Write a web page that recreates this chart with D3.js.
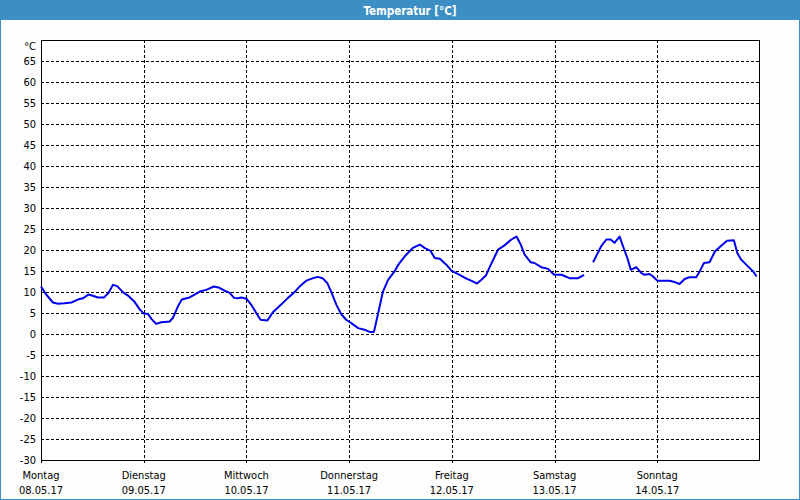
<!DOCTYPE html>
<html>
<head>
<meta charset="utf-8">
<script src="https://cdn.jsdelivr.net/npm/d3@7/dist/d3.min.js"></script>
<style>
  html, body { margin: 0; padding: 0; background: #ffffff; }
  svg { display: block; }
  .lbl { font-family: "DejaVu Sans Condensed", "DejaVu Sans", sans-serif; font-stretch: condensed; font-size: 11px; fill: #000; }
  .title { font-family: "DejaVu Sans Condensed", "DejaVu Sans", sans-serif; font-stretch: condensed; font-weight: bold; font-size: 11.5px; fill: #fff; }
</style>
</head>
<body>
<svg id="chart" width="800" height="500"></svg>
<script>
const titleText = "Temperatur [°C]";
const unitLabel = "°C";
const dayNames = ["Montag", "Dienstag", "Mittwoch", "Donnerstag", "Freitag", "Samstag", "Sonntag"];
const dayDates = ["08.05.17", "09.05.17", "10.05.17", "11.05.17", "12.05.17", "13.05.17", "14.05.17"];
const yTicks = [-30, -25, -20, -15, -10, -5, 0, 5, 10, 15, 20, 25, 30, 35, 40, 45, 50, 55, 60, 65];

// hours since Monday 00:00
const hours = [0, 1.2, 2.8, 4, 5.5, 7.1, 8.6, 9.8, 11.1, 12.1, 13.3, 14.7, 15.8, 16.8, 17.8, 19.2, 20.5, 21.9, 23.1, 24.1,
  25, 25.8, 26.9, 28.1, 30.1, 30.8, 32, 32.9, 34.7, 35.9, 37.1, 38.6, 40.4, 41.7, 42.9, 44.1, 45.1, 46, 46.8, 48,
  49.1, 50.3, 51.3, 52.9, 54.2, 56.1, 57.7, 59.1, 60.4, 62, 63.6, 64.7, 65.9, 66.9, 67.8, 69, 70.1, 71.3, 72.5, 74.1,
  75.6, 76.8, 77.8, 78.7, 79.9, 81.1, 82.6, 83.5, 85, 86.9, 88.5, 89.6, 91, 92, 93.2, 94.7, 95.9, 97.8, 99.4, 100.5,
  101.9, 102.9, 104, 105.1, 106.8, 108.3, 109.9, 111.1, 112.1, 113, 114.4, 115.3, 116.9, 118.5, 119.9, 121.6, 123.5, 125.5, 126.9, 128,
  129, 130.1, 130.9, 132.1, 133.1, 134, 135.2, 136.2, 137, 137.8, 138.3, 139.1, 140.3, 141, 142.2, 143, 144, 146.9, 148, 149.2,
  150.4, 151.5, 153.1, 153.9, 154.9, 156.2, 157.5, 158.8, 160.3, 161.9, 162.7, 163.6, 165.2, 166.4, 167.2];
const temps = [11.3, 9.4, 7.5, 7.2, 7.3, 7.5, 8.2, 8.5, 9.4, 9.1, 8.7, 8.7, 9.8, 11.7, 11.4, 9.9, 9.0, 7.6, 5.8, 4.8,
  4.8, 3.6, 2.4, 2.8, 3.0, 3.8, 6.6, 8.2, 8.7, 9.4, 10.1, 10.5, 11.3, 11.0, 10.3, 9.8, 8.6, 8.5, 8.7, 8.4,
  7.0, 5.0, 3.4, 3.2, 5.2, 7.0, 8.6, 9.8, 11.3, 12.7, 13.3, 13.6, 13.2, 12.1, 10.1, 7.0, 4.8, 3.4, 2.6, 1.4,
  1.0, 0.5, 0.5, 4.6, 10.1, 12.9, 14.9, 16.5, 18.5, 20.5, 21.3, 20.5, 19.8, 18.1, 17.9, 16.5, 15.1, 14.1, 13.2, 12.7,
  12.0, 12.9, 14.0, 16.5, 20.1, 21.1, 22.5, 23.2, 21.3, 18.9, 17.1, 16.9, 15.9, 15.5, 14.1, 14.1, 13.3, 13.3, 14.1, null,
  17.1, 19.3, 20.9, 22.5, 22.5, 21.7, 23.2, 20.3, 18.1, 15.3, 15.5, 15.9, 14.5, 14.1, 14.3, 13.7, 12.7, 12.7, 12.4, 11.9,
  13.1, 13.5, 13.5, 14.9, 16.9, 17.1, 19.7, 20.9, 22.2, 22.3, 19.3, 17.7, 16.1, 14.9, 13.7];

const W = 800, H = 500;
const m = { left: 41, right: 760, top: 40, bottom: 460 };
const blue = "#3b8fc4";

const svg = d3.select("#chart");

// background & frame
svg.append("rect").attr("x", 0).attr("y", 0).attr("width", W).attr("height", H).attr("fill", "#fcfdfc");
svg.append("rect").attr("x", 0.5).attr("y", 0.5).attr("width", W - 1).attr("height", H - 1)
  .attr("fill", "none").attr("stroke", blue).attr("stroke-width", 1);
svg.append("rect").attr("x", 0).attr("y", 0).attr("width", W).attr("height", 20).attr("fill", blue);
svg.append("text").attr("class", "title").attr("x", 410).attr("y", 14.5).attr("text-anchor", "middle").text(titleText);

const x = d3.scaleLinear().domain([0, 168]).range([m.left, m.right]);
const y = d3.scaleLinear().domain([-30, 70]).range([m.bottom, m.top]);

// plot background
svg.append("rect").attr("x", m.left).attr("y", m.top).attr("width", m.right - m.left).attr("height", m.bottom - m.top)
  .attr("fill", "#ffffff");

// horizontal grid
svg.append("g").selectAll("line").data(yTicks.filter(v => v > -30)).join("line")
  .attr("x1", m.left).attr("x2", m.right)
  .attr("y1", d => Math.round(y(d)) + 0.5).attr("y2", d => Math.round(y(d)) + 0.5)
  .attr("stroke", "#000").attr("stroke-width", 1).attr("stroke-dasharray", "3,2");

// vertical grid
const dayIdx = d3.range(dayNames.length);
svg.append("g").selectAll("line").data(dayIdx.filter(d => d > 0)).join("line")
  .attr("x1", d => Math.round(x(d * 24)) + 0.5).attr("x2", d => Math.round(x(d * 24)) + 0.5)
  .attr("y1", m.top).attr("y2", m.bottom + 3)
  .attr("stroke", "#000").attr("stroke-width", 1).attr("stroke-dasharray", "3,2");

// plot box
svg.append("rect").attr("x", m.left + 0.5).attr("y", m.top + 0.5)
  .attr("width", m.right - m.left - 1).attr("height", m.bottom - m.top)
  .attr("fill", "none").attr("stroke", "#000").attr("stroke-width", 1);
svg.append("line").attr("x1", m.left + 0.5).attr("x2", m.left + 0.5).attr("y1", m.bottom).attr("y2", m.bottom + 3)
  .attr("stroke", "#000");

// y labels
svg.append("g").selectAll("text").data(yTicks).join("text")
  .attr("class", "lbl").attr("x", 36).attr("y", d => y(d) + 4).attr("text-anchor", "end").text(d => d);
svg.append("text").attr("class", "lbl").attr("x", 36).attr("y", 50).attr("text-anchor", "end").text(unitLabel);

// x labels
const xl = svg.append("g").selectAll("g").data(dayIdx).join("g");
xl.append("text").attr("class", "lbl").attr("x", d => x(d * 24)).attr("y", 479).attr("text-anchor", "middle").text(d => dayNames[d]);
xl.append("text").attr("class", "lbl").attr("x", d => x(d * 24)).attr("y", 494).attr("text-anchor", "middle").text(d => dayDates[d]);

// temperature line
const pts = hours.map((h, i) => ({ h: h, t: temps[i] }));
const line = d3.line().defined(d => d.t !== null).x(d => x(d.h)).y(d => y(d.t));
svg.append("path").datum(pts).attr("d", line)
  .attr("fill", "none").attr("stroke", "#0000ee").attr("stroke-width", 2).attr("stroke-linejoin", "round");
</script>
</body>
</html>
